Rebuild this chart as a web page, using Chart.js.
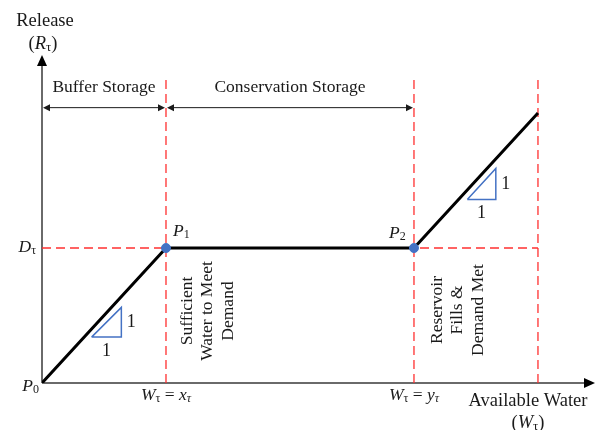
<!DOCTYPE html>
<html>
<head>
<meta charset="utf-8">
<script src="https://cdn.jsdelivr.net/npm/chart.js@4/dist/chart.umd.min.js"></script>
<style>
  html, body { margin: 0; background: #fff; }
  #wrap { width: 596px; height: 430px; }
</style>
</head>
<body>
<div id="wrap"><canvas id="chart"></canvas></div>
<script>
// release rule: P0 -> P1 -> P2 -> reservoir full
var releaseX = [0, 1, 3, 4];
var releaseY = [0, 1, 1, 2];
var breakX = [1, 3];            // P1, P2
var breakY = [1, 1];
var guideX = [1, 3, 4];         // red dashed verticals
var guideTop = 2.28;
var demandLevel = 1;            // D
var zoneFrom = [0, 1];
var zoneTo = [1, 3];
var zoneLevel = 2.04;
var zoneNames = ['Buffer Storage', 'Conservation Storage'];
// slope triangles: [x0, y0, x1, y1]
var slopeTri = [[0.40, 0.34, 0.64, 0.56], [3.43, 1.36, 3.66, 1.59]];
var noteLeft = ['Sufficient', 'Water to Meet', 'Demand'];
var noteRight = ['Reservoir', 'Fills &', 'Demand Met'];
var xTitle = ['Available Water'];
var yTitle = ['Release'];

var serif = '"Liberation Serif", "Times New Roman", serif';
var red = '#ff3030';
var blue = '#4472c4';

function pts(xs, ys) {
    return xs.map(function(x, i) { return {x: x, y: ys[i]}; });
}

var datasets = [];
guideX.forEach(function(gx) {
    datasets.push({data: pts([gx, gx], [0, guideTop]), borderColor: red, borderWidth: 1.3,
        borderDash: [9, 5], pointRadius: 0, showLine: true, order: 5});
});
datasets.push({data: pts([0, guideX[guideX.length - 1]], [demandLevel, demandLevel]), borderColor: red,
    borderWidth: 1.3, borderDash: [9, 5], pointRadius: 0, showLine: true, order: 5});
slopeTri.forEach(function(t) {
    datasets.push({data: pts([t[0], t[2], t[2], t[0]], [t[1], t[3], t[1], t[1]]), borderColor: blue,
        borderWidth: 1.5, pointRadius: 0, showLine: true, order: 4});
});
datasets.push({data: pts(releaseX, releaseY), borderColor: '#000', borderWidth: 3,
    pointRadius: 0, showLine: true, order: 2});
datasets.push({data: pts(breakX, breakY), backgroundColor: blue, borderColor: blue,
    pointRadius: 4.5, showLine: false, order: 1});

var baseSize = 17.5;
// text with italic / subscript pieces
function rich(ctx, parts, x, y, align, size) {
    size = size || baseSize;
    var total = 0;
    parts.forEach(function(p) {
        ctx.font = fontFor(p[1], size);
        total += ctx.measureText(p[0]).width;
    });
    var cx = align === 'center' ? x - total / 2 : (align === 'right' ? x - total : x);
    ctx.textAlign = 'left';
    ctx.textBaseline = 'middle';
    parts.forEach(function(p) {
        ctx.font = fontFor(p[1], size);
        var dy = p[1].indexOf('s') >= 0 ? 4 : 0;
        ctx.fillText(p[0], cx, y + dy);
        cx += ctx.measureText(p[0]).width;
    });
}
function fontFor(k, size) {
    var s = k.indexOf('s') >= 0 ? Math.round(size * 0.7) : size;
    var it = (k === 'i' || k === 'si') ? 'italic ' : '';
    return it + s + 'px ' + serif;
}
function arrowHead(ctx, x, y, dx, dy, len, half) {
    ctx.beginPath();
    ctx.moveTo(x, y);
    ctx.lineTo(x - dx * len - dy * half, y - dy * len + dx * half);
    ctx.lineTo(x - dx * len + dy * half, y - dy * len - dx * half);
    ctx.closePath();
    ctx.fill();
}

var diagram = {
    id: 'diagram',
    beforeDatasetsDraw: function(chart) {
        var ctx = chart.ctx, a = chart.chartArea;
        var x0 = chart.scales.x.getPixelForValue(0), y0 = chart.scales.y.getPixelForValue(0);
        ctx.save();
        ctx.strokeStyle = '#3a3a3a';
        ctx.fillStyle = '#000';
        ctx.lineWidth = 1.5;
        ctx.beginPath();
        ctx.moveTo(x0, y0); ctx.lineTo(x0, a.top + 8);
        ctx.moveTo(x0, y0); ctx.lineTo(a.right - 9, y0);
        ctx.stroke();
        arrowHead(ctx, x0, a.top, 0, -1, 11, 5);
        arrowHead(ctx, a.right - 1, y0, 1, 0, 11, 5);
        ctx.restore();
    },
    afterDraw: function(chart) {
        var ctx = chart.ctx, a = chart.chartArea;
        var sx = chart.scales.x, sy = chart.scales.y;
        var px = function(v) { return sx.getPixelForValue(v); };
        var py = function(v) { return sy.getPixelForValue(v); };
        ctx.save();
        ctx.fillStyle = '#1a1a1a';
        ctx.strokeStyle = '#1a1a1a';

        // zone arrows
        var zy = py(zoneLevel);
        ctx.lineWidth = 1;
        zoneNames.forEach(function(name, i) {
            var l = px(zoneFrom[i]) + 1, r = px(zoneTo[i]) - 1;
            ctx.beginPath(); ctx.moveTo(l + 5, zy); ctx.lineTo(r - 5, zy); ctx.stroke();
            arrowHead(ctx, l, zy, -1, 0, 7, 3.5);
            arrowHead(ctx, r, zy, 1, 0, 7, 3.5);
            rich(ctx, [[name, 'n']], (l + r) / 2, zy - 20, 'center');
        });

        // axis titles
        var x0 = px(0), y0 = py(0);
        rich(ctx, [[yTitle[0], 'n']], x0 + 3, 21, 'center', 18.5);
        rich(ctx, [['(', 'n'], ['R', 'i'], ['τ', 's'], [')', 'n']], x0 + 1, 44, 'center', 18.5);
        rich(ctx, [[xTitle[0], 'n']], 528, y0 + 18, 'center', 18.5);
        rich(ctx, [['(', 'n'], ['W', 'i'], ['τ', 's'], [')', 'n']], 528, y0 + 40, 'center', 18.5);

        // point and level labels
        rich(ctx, [['D', 'i'], ['τ', 's']], x0 - 6, py(demandLevel) - 1, 'right');
        rich(ctx, [['P', 'i'], ['0', 's']], x0 - 3, y0 + 3, 'right');
        rich(ctx, [['P', 'i'], ['1', 's']], px(breakX[0]) + 7, py(breakY[0]) - 17, 'left');
        rich(ctx, [['P', 'i'], ['2', 's']], px(breakX[1]) - 25, py(breakY[1]) - 15, 'left');
        rich(ctx, [['W', 'i'], ['τ', 's'], [' = ', 'n'], ['x', 'i'], ['τ', 'si']], px(breakX[0]), y0 + 12, 'center');
        rich(ctx, [['W', 'i'], ['τ', 's'], [' = ', 'n'], ['y', 'i'], ['τ', 'si']], px(breakX[1]), y0 + 12, 'center');

        // slope labels
        slopeTri.forEach(function(t) {
            rich(ctx, [['1', 'n']], px(t[2]) + 10, (py(t[1]) + py(t[3])) / 2, 'center', 18);
            rich(ctx, [['1', 'n']], (px(t[0]) + px(t[2])) / 2, py(t[1]) + 14, 'center', 18);
        });

        // rotated notes
        function note(lines, xl, yc) {
            ctx.save();
            ctx.translate(xl, yc);
            ctx.rotate(-Math.PI / 2);
            ctx.font = '17.5px ' + serif;
            ctx.textAlign = 'center';
            ctx.textBaseline = 'middle';
            lines.forEach(function(s, i) { ctx.fillText(s, 0, i * 20.5); });
            ctx.restore();
        }
        note(noteLeft, px(breakX[0]) + 21, 311);
        note(noteRight, px(breakX[1]) + 23, 310);
        ctx.restore();
    }
};

new Chart(document.getElementById('chart'), {
    type: 'scatter',
    data: {datasets: datasets},
    options: {
        responsive: true,
        maintainAspectRatio: false,
        animation: false,
        layout: {autoPadding: false, padding: {left: 42, right: 0, top: 55, bottom: 47}},
        plugins: {legend: {display: false}, tooltip: {enabled: false}},
        scales: {
            x: {type: 'linear', min: 0, max: 4.468, display: false},
            y: {type: 'linear', min: 0, max: 2.43, display: false}
        },
        elements: {line: {tension: 0}}
    },
    plugins: [diagram]
});
</script>
</body>
</html>
